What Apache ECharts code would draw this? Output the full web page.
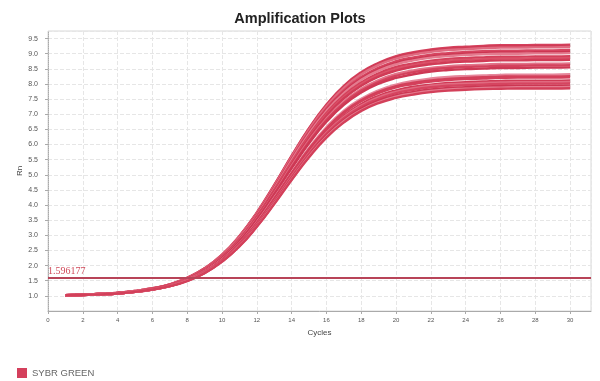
<!DOCTYPE html>
<html>
<head>
<meta charset="utf-8">
<script src="https://cdn.jsdelivr.net/npm/echarts@6/dist/echarts.min.js"></script>
<style>html,body{margin:0;padding:0;background:#fff}#c{width:600px;height:381px}</style>
</head>
<body>
<div id="c"></div>
<script>
const cycles = [1,2,3,4,5,6,7,8,9,10,11,12,13,14,15,16,17,18,19,20,21,22,23,24,25,26,27,28,29,30];
const curve01 = [1.02,1.04,1.07,1.10,1.16,1.25,1.38,1.60,1.91,2.36,2.98,3.76,4.67,5.63,6.54,7.32,7.94,8.39,8.70,8.92,9.05,9.14,9.20,9.23,9.26,9.28,9.28,9.29,9.29,9.30];
const curve02 = [1.02,1.04,1.07,1.10,1.16,1.25,1.38,1.59,1.91,2.35,2.97,3.74,4.65,5.61,6.52,7.29,7.91,8.35,8.67,8.88,9.01,9.10,9.16,9.19,9.22,9.24,9.24,9.25,9.25,9.26];
const curve03 = [1.02,1.04,1.07,1.10,1.16,1.25,1.38,1.59,1.90,2.35,2.96,3.73,4.63,5.59,6.49,7.26,7.87,8.32,8.63,8.84,8.97,9.06,9.12,9.15,9.18,9.20,9.20,9.21,9.21,9.22];
const curve04 = [1.02,1.04,1.06,1.10,1.15,1.24,1.37,1.58,1.89,2.33,2.93,3.70,4.59,5.53,6.42,7.19,7.79,8.23,8.54,8.75,8.88,8.97,9.02,9.06,9.08,9.10,9.10,9.11,9.11,9.12];
const curve05 = [1.02,1.04,1.06,1.10,1.15,1.24,1.37,1.58,1.89,2.32,2.92,3.68,4.56,5.50,6.38,7.14,7.74,8.17,8.48,8.69,8.82,8.91,8.96,9.00,9.02,9.04,9.04,9.05,9.05,9.06];
const curve06 = [1.02,1.04,1.06,1.10,1.15,1.24,1.37,1.58,1.88,2.32,2.91,3.66,4.54,5.48,6.36,7.11,7.70,8.14,8.44,8.65,8.78,8.87,8.92,8.96,8.98,9.00,9.00,9.01,9.01,9.02];
const curve07 = [1.02,1.04,1.06,1.10,1.15,1.24,1.36,1.57,1.87,2.30,2.88,3.63,4.50,5.42,6.29,7.04,7.62,8.05,8.35,8.56,8.68,8.77,8.83,8.86,8.88,8.90,8.90,8.91,8.91,8.92];
const curve08 = [1.02,1.04,1.06,1.09,1.15,1.24,1.36,1.57,1.86,2.29,2.87,3.61,4.47,5.39,6.25,6.99,7.57,8.00,8.29,8.50,8.62,8.71,8.77,8.80,8.82,8.84,8.84,8.85,8.85,8.86];
const curve09 = [1.02,1.04,1.06,1.09,1.15,1.23,1.36,1.56,1.86,2.28,2.86,3.59,4.45,5.35,6.21,6.94,7.52,7.94,8.24,8.44,8.57,8.65,8.71,8.74,8.76,8.78,8.78,8.79,8.79,8.80];
const curve10 = [1.02,1.04,1.06,1.09,1.15,1.23,1.35,1.55,1.84,2.26,2.83,3.55,4.39,5.29,6.13,6.85,7.42,7.84,8.13,8.33,8.45,8.53,8.59,8.62,8.64,8.66,8.66,8.67,8.67,8.68];
const curve11 = [1.02,1.04,1.06,1.09,1.14,1.23,1.35,1.55,1.84,2.25,2.81,3.53,4.37,5.25,6.09,6.81,7.37,7.78,8.07,8.27,8.39,8.48,8.53,8.56,8.58,8.60,8.60,8.61,8.61,8.62];
const curve12 = [1.02,1.04,1.06,1.09,1.14,1.23,1.35,1.54,1.83,2.24,2.80,3.51,4.34,5.21,6.04,6.75,7.31,7.72,8.01,8.20,8.32,8.41,8.46,8.49,8.51,8.53,8.53,8.54,8.54,8.55];
const curve13 = [1.02,1.04,1.06,1.09,1.14,1.22,1.34,1.53,1.81,2.20,2.74,3.43,4.24,5.08,5.89,6.58,7.12,7.51,7.79,7.98,8.10,8.18,8.23,8.26,8.28,8.30,8.31,8.31,8.31,8.32];
const curve14 = [1.02,1.03,1.05,1.08,1.13,1.22,1.33,1.52,1.80,2.19,2.73,3.41,4.21,5.05,5.85,6.53,7.07,7.46,7.74,7.93,8.04,8.12,8.17,8.20,8.22,8.24,8.25,8.25,8.25,8.26];
const curve15 = [1.02,1.03,1.05,1.08,1.13,1.22,1.33,1.52,1.79,2.18,2.72,3.40,4.19,5.03,5.82,6.50,7.04,7.43,7.70,7.89,8.00,8.08,8.13,8.16,8.18,8.20,8.21,8.21,8.21,8.22];
const curve16 = [1.02,1.03,1.05,1.08,1.13,1.21,1.33,1.51,1.78,2.17,2.69,3.36,4.15,4.97,5.76,6.43,6.95,7.34,7.61,7.79,7.91,7.98,8.03,8.06,8.08,8.10,8.11,8.11,8.11,8.12];
const curve17 = [1.02,1.03,1.05,1.08,1.13,1.21,1.33,1.51,1.78,2.16,2.68,3.35,4.12,4.95,5.72,6.39,6.91,7.29,7.56,7.74,7.86,7.94,7.99,8.01,8.03,8.05,8.06,8.06,8.06,8.07];
const curve18 = [1.02,1.03,1.05,1.08,1.13,1.21,1.32,1.51,1.77,2.15,2.67,3.33,4.10,4.92,5.69,6.35,6.87,7.25,7.51,7.70,7.81,7.89,7.94,7.96,7.98,8.00,8.01,8.01,8.01,8.02];
const curve19 = [1.02,1.03,1.05,1.08,1.13,1.21,1.32,1.50,1.76,2.14,2.65,3.31,4.07,4.88,5.64,6.30,6.81,7.19,7.45,7.63,7.74,7.82,7.87,7.89,7.92,7.93,7.94,7.94,7.94,7.95];
const curve20 = [1.02,1.03,1.05,1.08,1.13,1.21,1.32,1.50,1.76,2.13,2.64,3.29,4.05,4.85,5.61,6.26,6.77,7.14,7.40,7.58,7.69,7.77,7.82,7.84,7.87,7.88,7.89,7.89,7.89,7.90];
const curve21 = [1.02,1.03,1.05,1.08,1.13,1.21,1.32,1.49,1.75,2.13,2.63,3.28,4.03,4.83,5.58,6.23,6.73,7.11,7.37,7.54,7.65,7.73,7.78,7.81,7.83,7.84,7.85,7.85,7.85,7.86];
const curves = [curve01,curve02,curve03,curve04,curve05,curve06,curve07,curve08,curve09,curve10,curve11,curve12,curve13,curve14,curve15,curve16,curve17,curve18,curve19,curve20,curve21];
const seriesName = 'SYBR GREEN';
const threshold = 1.596177;
const thresholdLabel = '1.596177';
const titleText = 'Amplification Plots';
const xName = 'Cycles';
const yName = 'Rn';

const shades = ['#d43f5b','#cf3a55','#e06a80','#d64560','#cc3652','#e47b8f','#d3405a','#da5068','#d03b56','#e27288','#d4425d','#cd3854','#e6859a','#d2405a'];

const series = curves.map((vals, i) => ({
  name: seriesName,
  type: 'line',
  smooth: true,
  symbol: 'none',
  showSymbol: false,
  z: 3,
  lineStyle: { width: 2.4, color: shades[i % shades.length] },
  itemStyle: { color: '#d4405c' },
  data: cycles.map((c, j) => [c, vals[j]])
}));
series[0].markLine = {
  silent: true,
  symbol: 'none',
  z: 5,
  lineStyle: { color: '#b84458', width: 2, type: 'solid' },
  label: {
    show: true,
    position: 'insideStartTop',
    formatter: thresholdLabel,
    fontFamily: 'Liberation Serif, DejaVu Serif, serif',
    fontSize: 10,
    color: '#d04a5a',
    distance: [0, 1]
  },
  data: [{ yAxis: threshold }]
};

const chart = echarts.init(document.getElementById('c'), null, { renderer: 'canvas' });
chart.setOption({
  animation: false,
  backgroundColor: '#fff',
  title: {
    text: titleText,
    left: 'center',
    top: 6,
    textStyle: { fontFamily: 'Liberation Sans, Arial, sans-serif', fontWeight: 'bold', fontSize: 14.5, color: '#222' }
  },
  legend: {
    data: [seriesName],
    left: 12,
    top: 363,
    icon: 'rect',
    itemWidth: 10,
    itemHeight: 10,
    itemGap: 4,
    textStyle: { fontFamily: 'Liberation Sans, Arial, sans-serif', fontSize: 9.5, color: '#666' }
  },
  grid: { left: 48, right: 9, top: 31, bottom: 70, show: true, borderColor: '#d8d8d8', borderWidth: 1 },
  xAxis: {
    type: 'value',
    min: 0,
    max: 31.2,
    interval: 2,
    name: xName,
    nameLocation: 'middle',
    nameGap: 18,
    nameMoveOverlap: false,
    nameTextStyle: { fontFamily: 'Liberation Sans, Arial, sans-serif', fontSize: 8, color: '#444' },
    axisLine: { lineStyle: { color: '#aaa' } },
    axisTick: { show: true, length: 3, lineStyle: { color: '#aaa' } },
    axisLabel: { showMaxLabel: false, fontSize: 6, color: '#555', margin: 6, fontFamily: 'Liberation Sans, Arial, sans-serif' },
    splitLine: { show: true, lineStyle: { color: '#e6e6e6', type: 'dashed', width: 1 } }
  },
  yAxis: {
    type: 'value',
    min: 0.5,
    max: 9.75,
    interval: 0.5,
    name: yName,
    nameLocation: 'middle',
    nameGap: 24,
    nameMoveOverlap: false,
    nameRotate: 90,
    nameTextStyle: { fontFamily: 'Liberation Sans, Arial, sans-serif', fontSize: 8, color: '#444' },
    axisLine: { show: true, lineStyle: { color: '#aaa', type: 'dotted' } },
    axisTick: { show: true, length: 3, lineStyle: { color: '#aaa' } },
    axisLabel: { showMinLabel: false, showMaxLabel: false, fontSize: 7, color: '#555', margin: 10, formatter: v => v.toFixed(1), fontFamily: 'Liberation Sans, Arial, sans-serif' },
    splitLine: { show: true, lineStyle: { color: '#e6e6e6', type: 'dashed', width: 1 } }
  },
  series: series
});
</script>
</body>
</html>
